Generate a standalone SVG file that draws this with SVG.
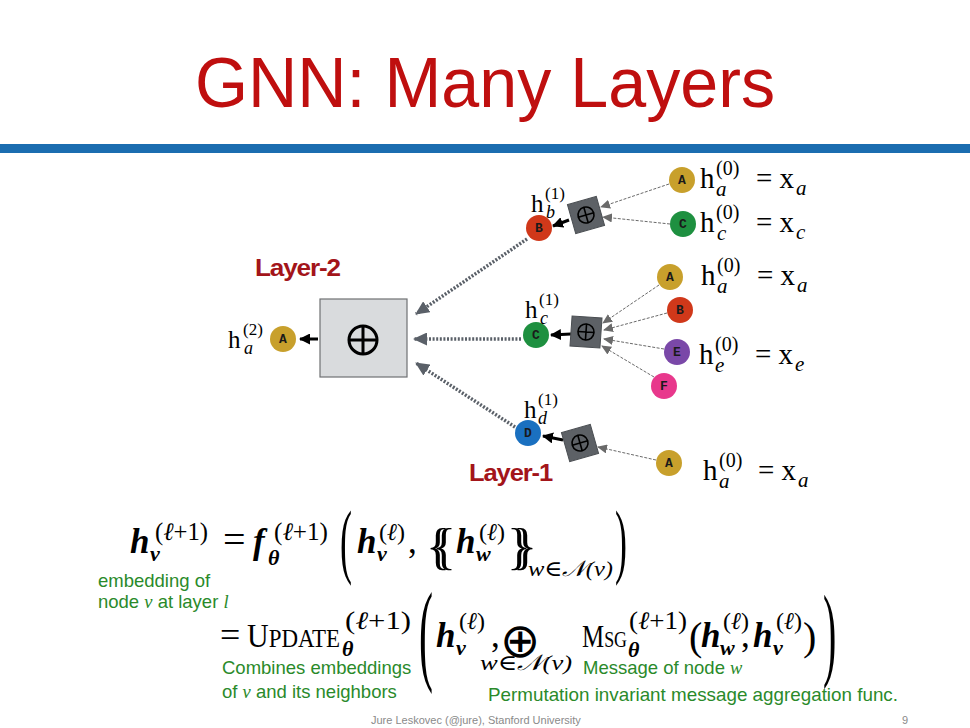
<svg xmlns="http://www.w3.org/2000/svg" width="970" height="728" viewBox="0 0 970 728">
<defs>
<style>
.title{font-family:"Liberation Sans",Arial,sans-serif;font-size:70px;fill:#bf0f0f}
.layer{font-family:"Liberation Sans",Arial,sans-serif;font-size:23px;font-weight:bold;fill:#a3151a;letter-spacing:-1px}
.m{font-family:"Liberation Serif","DejaVu Serif",serif;fill:#000}
.mb{font-family:"Liberation Serif","DejaVu Serif",serif;font-weight:bold;font-style:italic;fill:#000}
.mi{font-family:"Liberation Serif","DejaVu Serif",serif;font-style:italic;fill:#000}
.g{font-family:"Liberation Sans",Arial,sans-serif;font-size:18.5px;fill:#2a8a2a}
.foot{font-family:"Liberation Sans",Arial,sans-serif;font-size:11px;fill:#8a8a8a}
.nl{font-family:"Liberation Mono","DejaVu Sans Mono",monospace;font-size:13px;font-weight:bold;fill:#1a1a1a;text-anchor:middle}
.sbox{fill:#5d6166;stroke:#4a4e52;stroke-width:1}
.oplus{fill:none;stroke:#000;stroke-width:1.6}
.thin{stroke:#6a6a6a;stroke-width:1;stroke-dasharray:3 1.5;fill:none;marker-end:url(#mThin)}
.dot{stroke:#5a6068;stroke-width:3.5;stroke-dasharray:2 1.6;fill:none;marker-end:url(#mGray)}
.blk{stroke:#000;stroke-width:3;fill:none;marker-end:url(#mBlk)}
</style>
<marker id="mThin" markerWidth="10" markerHeight="9" refX="9" refY="4.5" orient="auto" markerUnits="userSpaceOnUse"><path d="M0,0 L10,4.5 L0,9 Z" fill="#6a6a6a"/></marker>
<marker id="mGray" markerWidth="14" markerHeight="13" refX="13" refY="6.5" orient="auto" markerUnits="userSpaceOnUse"><path d="M0,0 L14,6.5 L0,13 Z" fill="#5a6068"/></marker>
<marker id="mBlk" markerWidth="11" markerHeight="11" refX="10" refY="5.5" orient="auto" markerUnits="userSpaceOnUse"><path d="M0,0 L11,5.5 L0,11 Z" fill="#000"/></marker>
</defs>
<rect width="970" height="728" fill="#fff"/>
<text class="title" x="485" y="107" text-anchor="middle" textLength="580" lengthAdjust="spacingAndGlyphs">GNN: Many Layers</text>
<rect x="0" y="144" width="970" height="9" fill="#1b6db0"/>

<g id="connectors">
<path class="dot" d="M527,239 L416,314"/>
<path class="dot" d="M521,339 L414,339"/>
<path class="dot" d="M515,427 L416,363"/>
<path class="blk" d="M318,339 L300,339"/>
<path class="blk" d="M569,220 L553,226"/>
<path class="blk" d="M571,334 L551,335"/>
<path class="blk" d="M563,440 L543,436"/>
<path class="thin" d="M669,184 L601,207"/>
<path class="thin" d="M670,224 L603,217"/>
<path class="thin" d="M659,285 L603,323"/>
<path class="thin" d="M667,313 L604,330"/>
<path class="thin" d="M664,349 L604,339"/>
<path class="thin" d="M654,377 L602,346"/>
<path class="thin" d="M656,460 L598,447"/>
</g>

<g id="agg2">
<rect x="320" y="299" width="87" height="78" fill="#d9dbdd" stroke="#6f7173" stroke-width="1.2"/>
<circle cx="363" cy="340" r="14" fill="none" stroke="#000" stroke-width="3"/>
<path d="M349,340 H377 M363,326 V354" stroke="#000" stroke-width="3"/>
</g>
<g id="node-root-A">
<circle cx="283" cy="339" r="13" fill="#c8a02c"/>
<text class="nl" x="283" y="343">A</text>
<text class="m" x="228" y="348" font-size="25">h</text>
<text class="m" x="243" y="335" font-size="17">(2)</text>
<text class="mi" x="244" y="354" font-size="18">a</text>
</g>
<text class="layer" x="255" y="276" textLength="85" lengthAdjust="spacingAndGlyphs">Layer-2</text>
<text class="layer" x="469" y="481" textLength="83" lengthAdjust="spacingAndGlyphs">Layer-1</text>

<g id="agg-b" transform="translate(586,215) rotate(-16)">
<rect class="sbox" x="-15" y="-15" width="30" height="30"/>
<circle class="oplus" r="8"/><path class="oplus" d="M-8,0 H8 M0,-8 V8"/>
</g>
<g id="agg-c" transform="translate(586,332) rotate(4)">
<rect class="sbox" x="-15" y="-15" width="30" height="30"/>
<circle class="oplus" r="8"/><path class="oplus" d="M-8,0 H8 M0,-8 V8"/>
</g>
<g id="agg-d" transform="translate(580,443) rotate(-16)">
<rect class="sbox" x="-15" y="-15" width="30" height="30"/>
<circle class="oplus" r="8"/><path class="oplus" d="M-8,0 H8 M0,-8 V8"/>
</g>

<g id="node-B1">
<circle cx="539" cy="228" r="13" fill="#d0381a"/>
<text class="nl" x="539" y="232">B</text>
<text class="m" x="531" y="212" font-size="25">h</text>
<text class="m" x="545" y="199" font-size="17">(1)</text>
<text class="mi" x="546" y="218" font-size="18">b</text>
</g>
<g id="node-C1">
<circle cx="536" cy="335" r="13" fill="#1e9040"/>
<text class="nl" x="536" y="339">C</text>
<text class="m" x="525" y="318" font-size="25">h</text>
<text class="m" x="539" y="305" font-size="17">(1)</text>
<text class="mi" x="540" y="324" font-size="18">c</text>
</g>
<g id="node-D1">
<circle cx="528" cy="433" r="13" fill="#1a70c0"/>
<text class="nl" x="528" y="437">D</text>
<text class="m" x="524" y="418" font-size="25">h</text>
<text class="m" x="538" y="405" font-size="17">(1)</text>
<text class="mi" x="538" y="424" font-size="18">d</text>
</g>

<g id="leaf-A1">
<circle cx="682" cy="180" r="13" fill="#c8a02c"/>
<text class="nl" x="682" y="184">A</text>
<text class="m" x="700" y="188" font-size="29">h</text>
<text class="m" x="716" y="175" font-size="20">(0)</text>
<text class="mi" x="716" y="196" font-size="21">a</text>
<text class="m" x="756" y="188" font-size="29">= x</text>
<text class="mi" x="796" y="195" font-size="21">a</text>
</g>
<g id="leaf-C1">
<circle cx="683" cy="224" r="13" fill="#1e9040"/>
<text class="nl" x="683" y="228">C</text>
<text class="m" x="700" y="232" font-size="29">h</text>
<text class="m" x="716" y="219" font-size="20">(0)</text>
<text class="mi" x="717" y="240" font-size="21">c</text>
<text class="m" x="756" y="232" font-size="29">= x</text>
<text class="mi" x="796" y="239" font-size="21">c</text>
</g>
<g id="leaf-A2">
<circle cx="670" cy="277" r="13" fill="#c8a02c"/>
<text class="nl" x="670" y="281">A</text>
<text class="m" x="701" y="285" font-size="29">h</text>
<text class="m" x="717" y="272" font-size="20">(0)</text>
<text class="mi" x="717" y="293" font-size="21">a</text>
<text class="m" x="757" y="285" font-size="29">= x</text>
<text class="mi" x="797" y="292" font-size="21">a</text>
</g>
<g id="leaf-B2">
<circle cx="680" cy="310" r="13" fill="#d0381a"/>
<text class="nl" x="680" y="314">B</text>
</g>
<g id="leaf-E2">
<circle cx="677" cy="352" r="13" fill="#7a48a8"/>
<text class="nl" x="677" y="356">E</text>
<text class="m" x="699" y="364" font-size="29">h</text>
<text class="m" x="715" y="351" font-size="20">(0)</text>
<text class="mi" x="715" y="372" font-size="21">e</text>
<text class="m" x="755" y="364" font-size="29">= x</text>
<text class="mi" x="795" y="371" font-size="21">e</text>
</g>
<g id="leaf-F2">
<circle cx="664" cy="386" r="13" fill="#e8388c"/>
<text class="nl" x="664" y="390">F</text>
</g>
<g id="leaf-A3">
<circle cx="669" cy="463" r="13" fill="#c8a02c"/>
<text class="nl" x="669" y="467">A</text>
<text class="m" x="703" y="480" font-size="29">h</text>
<text class="m" x="719" y="467" font-size="20">(0)</text>
<text class="mi" x="719" y="488" font-size="21">a</text>
<text class="m" x="758" y="480" font-size="29">= x</text>
<text class="mi" x="798" y="487" font-size="21">a</text>
</g>

<g id="formula1">
<text class="mb" x="130" y="553" font-size="35">h</text>
<text class="mb" x="150" y="561" font-size="22">v</text>
<text class="m" x="155" y="540" font-size="25" textLength="53" lengthAdjust="spacingAndGlyphs">(<tspan class="mi">ℓ</tspan>+1)</text>
<text class="m" x="223" y="553" font-size="40">=</text>
<text class="mb" x="253" y="553" font-size="35">f</text>
<text class="mb" x="268" y="565" font-size="22">θ</text>
<text class="m" x="274" y="540" font-size="25" textLength="54" lengthAdjust="spacingAndGlyphs">(<tspan class="mi">ℓ</tspan>+1)</text>
<text class="m" transform="translate(340,568) scale(1,2.3)" font-size="36">(</text>
<text class="mb" x="357" y="553" font-size="35">h</text>
<text class="mb" x="377" y="561" font-size="22">v</text>
<text class="m" x="379" y="540" font-size="24">(<tspan class="mi">ℓ</tspan>)</text>
<text class="m" x="408" y="553" font-size="35">,</text>
<text class="m" x="426" y="563" font-size="50">{<tspan dx="-18">{</tspan></text>
<text class="mb" x="456" y="553" font-size="35">h</text>
<text class="mb" x="476" y="561" font-size="22">w</text>
<text class="m" x="479" y="540" font-size="24">(<tspan class="mi">ℓ</tspan>)</text>
<text class="m" x="507" y="563" font-size="50">}<tspan dx="-18">}</tspan></text>
<text class="mi" x="528" y="576" font-size="22" textLength="85" lengthAdjust="spacingAndGlyphs">w∈𝒩(v)</text>
<text class="m" transform="translate(615,568) scale(1,2.3)" font-size="36">)</text>
</g>

<g id="formula2">
<text class="m" x="220" y="647" font-size="36">=</text>
<text class="m" x="247" y="647" font-size="34" textLength="93" lengthAdjust="spacingAndGlyphs">U<tspan font-size="26">PDATE</tspan></text>
<text class="mb" x="342" y="656" font-size="22">θ</text>
<text class="m" x="345" y="629" font-size="25" textLength="66" lengthAdjust="spacingAndGlyphs">(<tspan class="mi">ℓ</tspan>+1)</text>
<text class="m" transform="translate(419,670) scale(1,2.65)" font-size="42">(</text>
<text class="mb" x="436" y="647" font-size="35">h</text>
<text class="mb" x="456" y="655" font-size="22">v</text>
<text class="m" x="459" y="629" font-size="24">(<tspan class="mi">ℓ</tspan>)</text>
<text class="m" x="491" y="647" font-size="35">,</text>
<text x="500" y="657" font-size="48" font-family="DejaVu Sans, sans-serif">⊕</text>
<text class="mi" x="480" y="670" font-size="22" textLength="92" lengthAdjust="spacingAndGlyphs">w∈𝒩(v)</text>
<text class="m" x="582" y="647" font-size="32" textLength="45" lengthAdjust="spacingAndGlyphs">M<tspan font-size="23">SG</tspan></text>
<text class="mb" x="628" y="657" font-size="22">θ</text>
<text class="m" x="629" y="629" font-size="25" textLength="58" lengthAdjust="spacingAndGlyphs">(<tspan class="mi">ℓ</tspan>+1)</text>
<text class="m" x="689" y="650" font-size="40">(</text>
<text class="mb" x="701" y="647" font-size="35">h</text>
<text class="mb" x="720" y="655" font-size="22">w</text>
<text class="m" x="723" y="629" font-size="24">(<tspan class="mi">ℓ</tspan>)</text>
<text class="m" x="741" y="647" font-size="35">,</text>
<text class="mb" x="753" y="647" font-size="35">h</text>
<text class="mb" x="773" y="655" font-size="22">v</text>
<text class="m" x="776" y="629" font-size="24">(<tspan class="mi">ℓ</tspan>)</text>
<text class="m" x="803" y="650" font-size="40">)</text>
<text class="m" transform="translate(823,667) scale(1,2.58)" font-size="40">)</text>
</g>

<g id="annotations">
<text class="g" x="98" y="587">embedding of</text>
<text class="g" x="98" y="608">node <tspan font-family="Liberation Serif,serif" font-style="italic">v</tspan> at layer <tspan font-family="Liberation Serif,serif" font-style="italic">l</tspan></text>
<text class="g" x="222" y="674">Combines embeddings</text>
<text class="g" x="222" y="698">of <tspan font-family="Liberation Serif,serif" font-style="italic">v</tspan> and its neighbors</text>
<text class="g" x="583" y="674">Message of node <tspan font-family="Liberation Serif,serif" font-style="italic">w</tspan></text>
<text class="g" x="488" y="701" textLength="410" lengthAdjust="spacingAndGlyphs">Permutation invariant message aggregation func.</text>
</g>
<text class="foot" x="371" y="724">Jure Leskovec (@jure), Stanford University</text>
<text class="foot" x="902" y="724">9</text>
</svg>
